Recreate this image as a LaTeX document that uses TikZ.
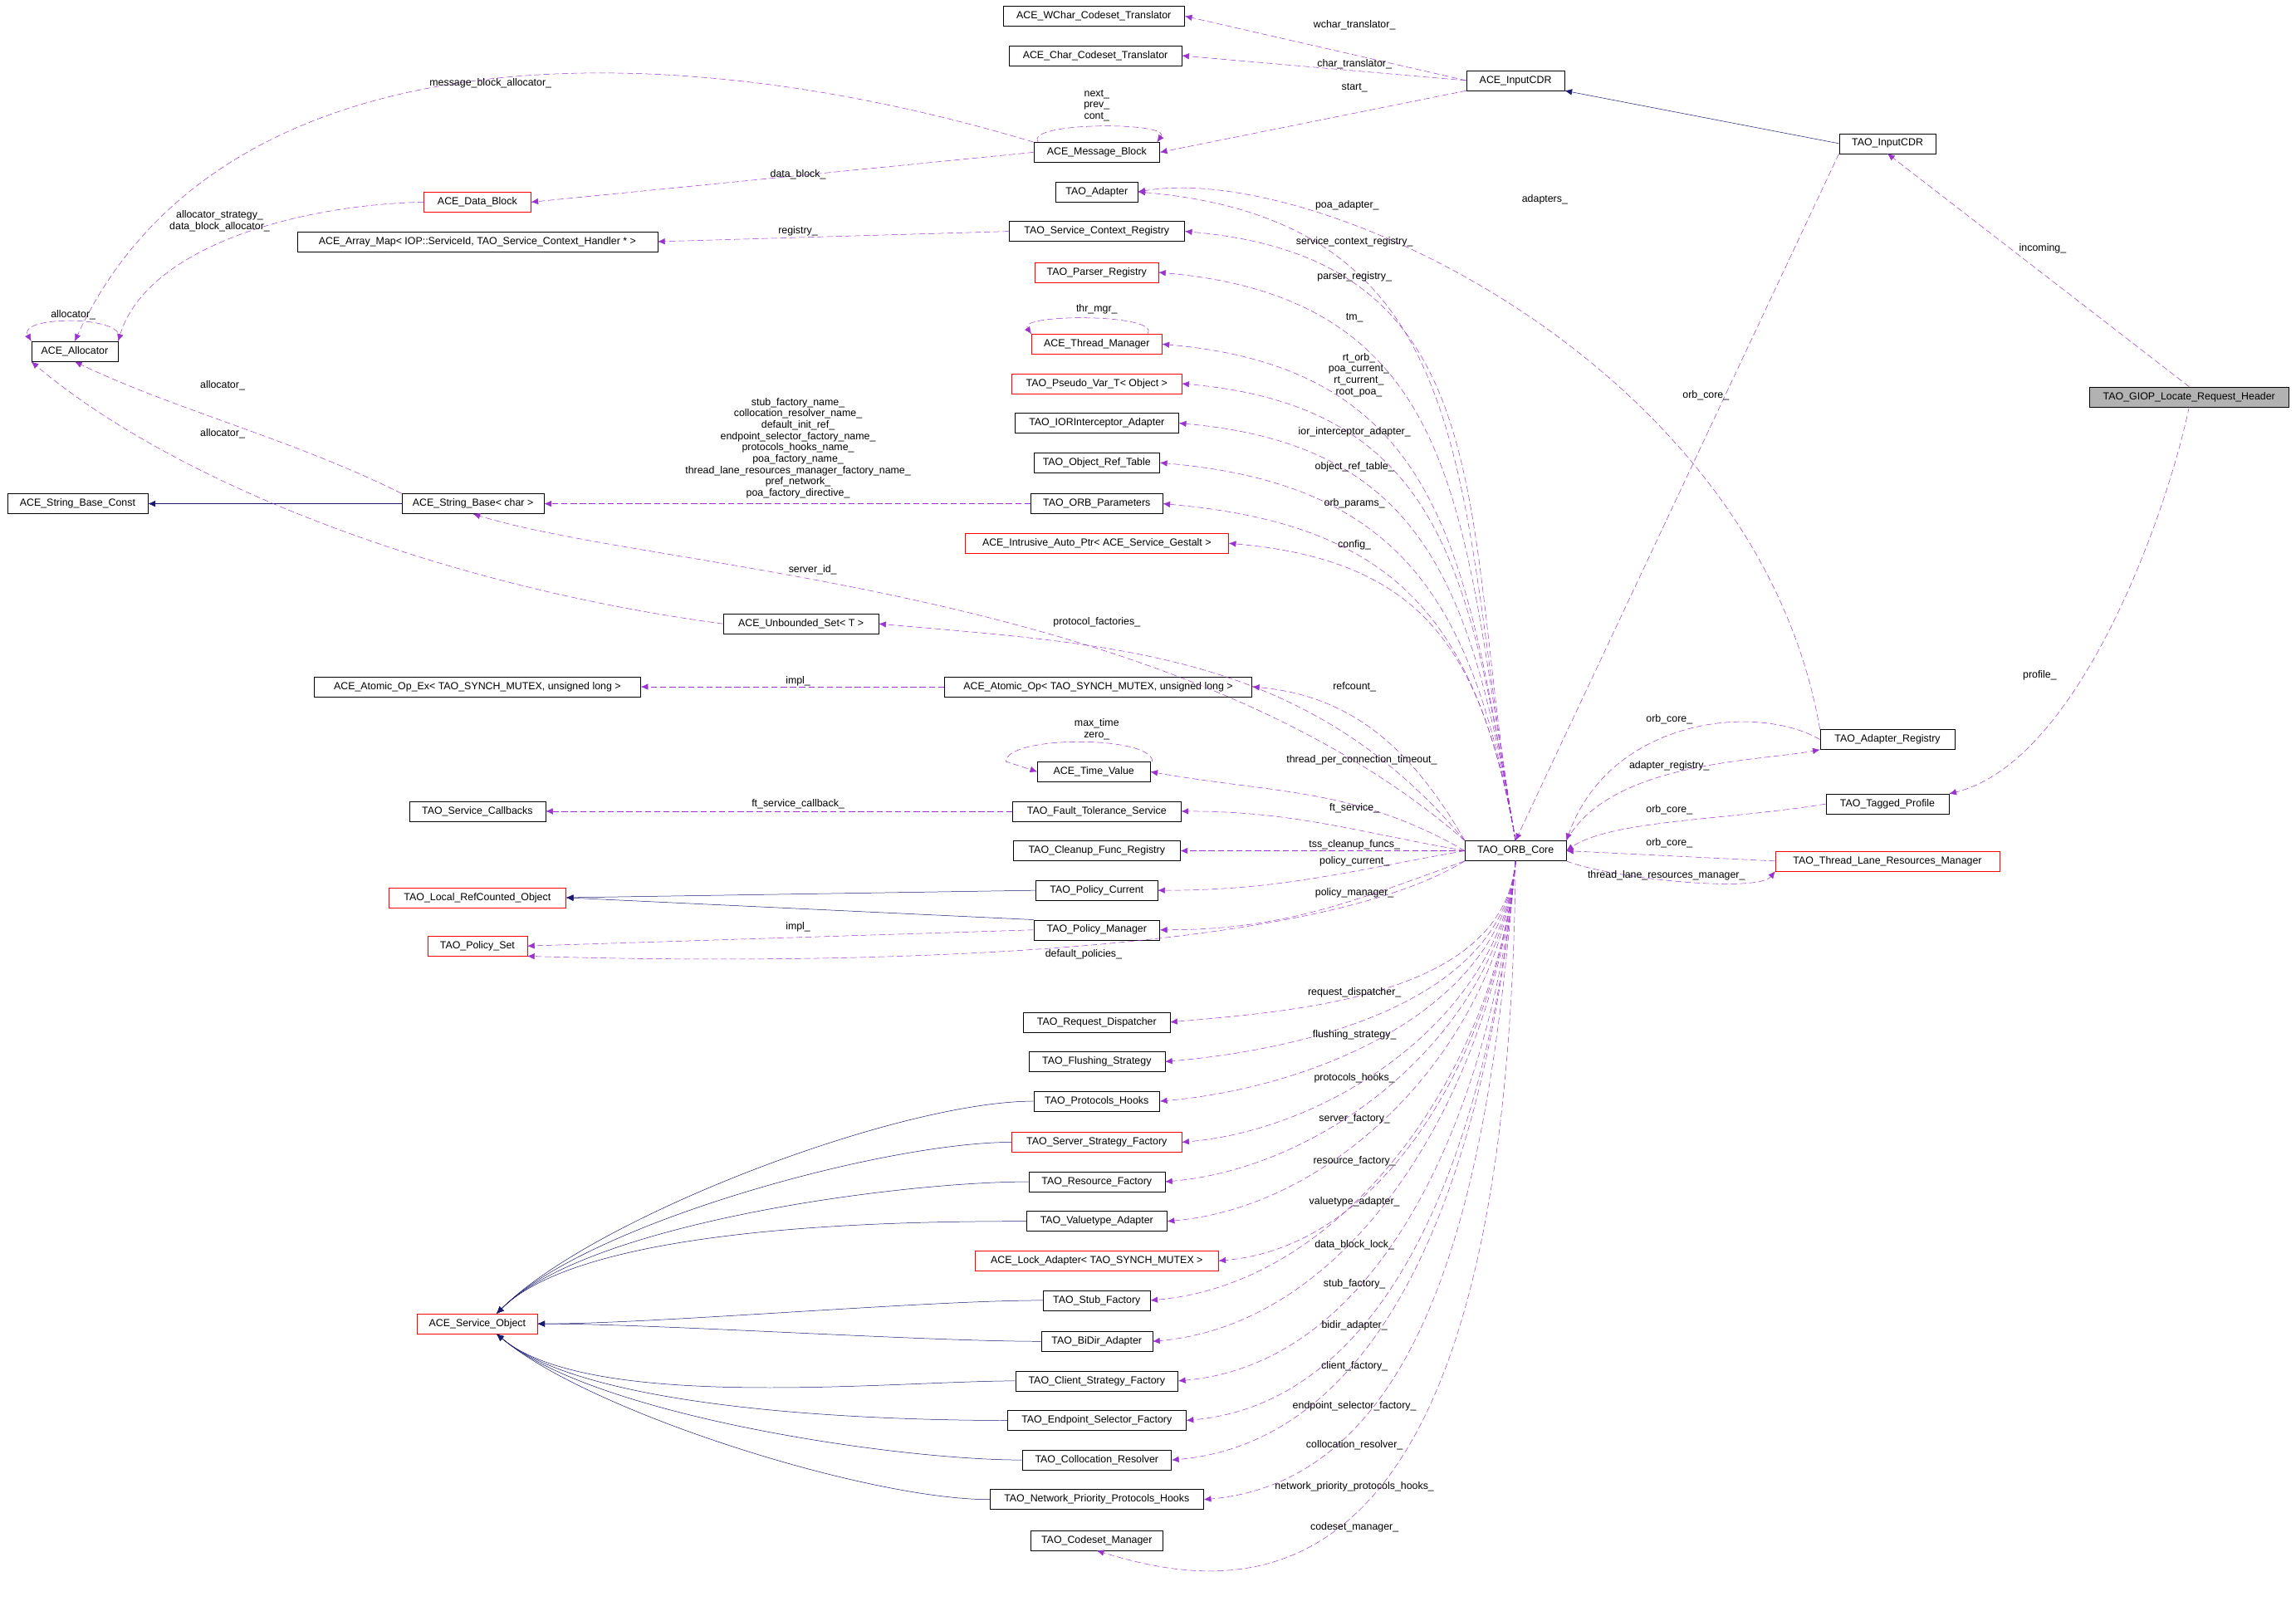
\documentclass[tikz,border=0pt]{standalone}
\usepackage{fontspec}
\setmainfont{Liberation Sans}
\usetikzlibrary{calc,arrows.meta}
\definecolor{dep}{HTML}{9A32CD}
\definecolor{inh}{HTML}{191970}
\tikzset{
 box/.style={draw=black,fill=white,font=\fontsize{10}{11}\selectfont,minimum height=0.68cm,inner sep=1pt},
 redbox/.style={box,draw=red},
 gbox/.style={box,fill=black!30},
 dep/.style={draw=dep,dashed,dash pattern=on 6pt off 3pt,-{Latex[length=7pt,width=6pt]}},
 inh/.style={draw=inh,-{Latex[length=7pt,width=6pt]}},
 lbl/.style={font=\fontsize{10}{11}\selectfont,inner sep=0pt,align=center}
}
\newcommand{\nd}[6][box]{\node[#1,minimum width=#5*0.05cm] (#2) at (#3,#4) {#6};}
\newcommand{\lb}[4]{\node[lbl] (#1) at (#2,#3) {#4};}
\begin{document}
\begin{tikzpicture}[x=0.05cm,y=-0.05cm]
\useasboundingbox (0,0) rectangle (1568,1103);
\nd{wchar}{747}{11}{124}{ACE\_WChar\_Codeset\_Translator}
\nd{char}{748}{38}{118}{ACE\_Char\_Codeset\_Translator}
\nd{acecdr}{1035}{55}{67}{ACE\_InputCDR}
\nd{taocdr}{1289}{98}{66}{TAO\_InputCDR}
\nd{mb}{749}{104}{86}{ACE\_Message\_Block}
\nd{adapter}{749}{131}{56}{TAO\_Adapter}
\nd[redbox]{db}{326}{138}{73}{ACE\_Data\_Block}
\nd{amap}{326}{165}{246}{ACE\_Array\_Map< IOP::ServiceId, TAO\_Service\_Context\_Handler * >}
\nd{scr}{749}{158}{120}{TAO\_Service\_Context\_Registry}
\nd[redbox]{preg}{749}{186}{84}{TAO\_Parser\_Registry}
\nd{alloc}{51}{240}{59}{ACE\_Allocator}
\nd[redbox]{tm}{749}{235}{89}{ACE\_Thread\_Manager}
\nd[redbox]{pv}{749}{262}{116}{TAO\_Pseudo\_Var\_T< Object >}
\nd[gbox]{giop}{1495}{271}{136}{TAO\_GIOP\_Locate\_Request\_Header}
\nd{ior}{749}{289}{112}{TAO\_IORInterceptor\_Adapter}
\nd{ort}{749}{316}{86}{TAO\_Object\_Ref\_Table}
\nd{sbc}{53}{344}{96}{ACE\_String\_Base\_Const}
\nd{sb}{323}{344}{97}{ACE\_String\_Base< char >}
\nd{op}{749}{344}{90}{TAO\_ORB\_Parameters}
\nd[redbox]{iap}{749}{371}{180}{ACE\_Intrusive\_Auto\_Ptr< ACE\_Service\_Gestalt >}
\nd{us}{547}{426}{106}{ACE\_Unbounded\_Set< T >}
\nd{aox}{326}{469}{223}{ACE\_Atomic\_Op\_Ex< TAO\_SYNCH\_MUTEX, unsigned long >}
\nd{ao}{750}{469}{210}{ACE\_Atomic\_Op< TAO\_SYNCH\_MUTEX, unsigned long >}
\nd{areg}{1289}{505}{92}{TAO\_Adapter\_Registry}
\nd{tv}{747}{527}{77}{ACE\_Time\_Value}
\nd{tp}{1289}{549}{84}{TAO\_Tagged\_Profile}
\nd{scb}{326}{554}{93}{TAO\_Service\_Callbacks}
\nd{fts}{749}{554}{115}{TAO\_Fault\_Tolerance\_Service}
\nd{core}{1035}{581}{69}{TAO\_ORB\_Core}
\nd{cfr}{749}{581}{114}{TAO\_Cleanup\_Func\_Registry}
\nd[redbox]{tlrm}{1289}{588}{153}{TAO\_Thread\_Lane\_Resources\_Manager}
\nd[redbox]{lrc}{326}{613}{121}{TAO\_Local\_RefCounted\_Object}
\nd{pc}{749}{608}{83}{TAO\_Policy\_Current}
\nd{pm}{749}{635}{86}{TAO\_Policy\_Manager}
\nd[redbox]{ps}{326}{646}{68}{TAO\_Policy\_Set}
\nd{rd}{749}{698}{100}{TAO\_Request\_Dispatcher}
\nd{fs}{749}{725}{93}{TAO\_Flushing\_Strategy}
\nd{ph}{749}{752}{86}{TAO\_Protocols\_Hooks}
\nd[redbox]{ssf}{749}{780}{116}{TAO\_Server\_Strategy\_Factory}
\nd{rf}{749}{807}{93}{TAO\_Resource\_Factory}
\nd{va}{749}{834}{96}{TAO\_Valuetype\_Adapter}
\nd[redbox]{la}{749}{861}{166}{ACE\_Lock\_Adapter< TAO\_SYNCH\_MUTEX >}
\nd{sf}{749}{888}{73}{TAO\_Stub\_Factory}
\nd[redbox]{so}{326}{904}{82}{ACE\_Service\_Object}
\nd{bda}{749}{916}{76}{TAO\_BiDir\_Adapter}
\nd{csf}{749}{943}{111}{TAO\_Client\_Strategy\_Factory}
\nd{esf}{749}{970}{122}{TAO\_Endpoint\_Selector\_Factory}
\nd{cr}{749}{997}{102}{TAO\_Collocation\_Resolver}
\nd{npph}{749}{1024}{146}{TAO\_Network\_Priority\_Protocols\_Hooks}
\nd{cm}{749}{1052}{90}{TAO\_Codeset\_Manager}

% inheritance
\draw[inh] (taocdr.west) -- (acecdr.south east);
\draw[inh] (sb.west) -- (sbc.east);
\draw[inh] (pc.west) -- (lrc.east);
\draw[inh] (pm.north west) -- (lrc.east);
\foreach \n in {ph,ssf,rf,va}
  \draw[inh] (\n.west) to[out=180,in=45,looseness=0.6] ($(so.north east)+(-28,0)$);
\foreach \n in {sf,bda}
  \draw[inh] (\n.west) to[out=180,in=0,looseness=0.6] (so.east);
\foreach \n in {csf,esf,cr,npph}
  \draw[inh] (\n.west) to[out=180,in=-40,looseness=0.6] ($(so.south east)+(-28,0)$);

% dependencies
\draw[dep] (acecdr.west) -- (wchar.east);
\draw[dep] (acecdr.west) -- (char.east);
\draw[dep] (acecdr.south west) -- (mb.east);
\draw[dep] ($(mb.north)+(-40,0)$) .. controls +(-10,-14) and +(10,-14) .. ($(mb.north east)+(-2,0)$);
\draw[dep] (mb.north west) .. controls (450,20) and (150,20) .. (alloc.north);
\draw[dep] (mb.west) -- (db.east);
\draw[dep] (db.west) .. controls (200,140) and (100,170) .. (alloc.north east);
\draw[dep] (alloc.north east) .. controls +(10,-18) and +(-10,-18) .. (alloc.north west);
\draw[dep] (sb.north west) .. controls (200,300) and (120,280) .. (alloc.south);
\draw[dep] (us.west) .. controls (300,400) and (120,330) .. (alloc.south west);
\draw[dep] (scr.west) -- (amap.east);
\draw[dep] ($(tm.north east)+(-10,0)$) .. controls +(10,-14) and +(-10,-14) .. ($(tm.north west)+(0,0)$);
\draw[dep] (op.west) -- (sb.east);
\draw[dep] (core.north west) .. controls (800,400) and (450,390) .. (sb.south);
\draw[dep] (ao.west) -- (aox.east);
\draw[dep] ($(tv.north)+(40,0)$) .. controls +(0,-18) and +(0,-18) .. ($(tv.north)+(-60,0)$) -- (tv.west);
\draw[dep] (fts.west) -- (scb.east);
\draw[dep] (pm.west) -- (ps.east);
\draw[dep] (core.south west) .. controls (900,650) and (600,660) .. (ps.south east);

% ORB core to column above
\foreach \n in {adapter,scr,preg,tm,pv,ior,ort,op,iap}
  \draw[dep] (core.north) to[out=100,in=-5,looseness=1.2] (\n.east);
\draw[dep] (core.north west) to[out=130,in=-5] (us.east);
\draw[dep] (core.north west) to[out=120,in=-5] (ao.east);
\draw[dep] (core.west) to[out=150,in=-10] (tv.east);
\draw[dep] (core.west) to[out=170,in=0] (fts.east);
\draw[dep] (core.west) -- (cfr.east);
\draw[dep] (core.west) to[out=190,in=0] (pc.east);
\draw[dep] (core.south west) to[out=200,in=0] (pm.east);
\foreach \n in {rd,fs,ph,ssf,rf,va,la,sf,bda,csf,esf,cr,npph}
  \draw[dep] (core.south) to[out=-95,in=5,looseness=0.9] (\n.east);
\draw[dep] (core.south) .. controls (1030,1110) and (850,1090) .. (cm.south);

\draw[dep] (areg.north west) .. controls (1200,250) and (900,110) .. (adapter.east);
\draw[dep] (taocdr.south west) -- (core.north);
\draw[dep] (areg.west) .. controls (1200,480) and (1100,490) .. (core.north east);
\draw[dep] (core.north east) .. controls (1100,520) and (1200,520) .. (areg.south west);
\draw[dep] (tp.west) .. controls (1180,560) and (1100,560) .. (core.east);
\draw[dep] (tlrm.west) -- (core.east);
\draw[dep] (core.south east) .. controls (1100,600) and (1200,610) .. (tlrm.south west);
\draw[dep] (giop.north) -- (taocdr.south);
\draw[dep] (giop.south) .. controls (1480,350) and (1420,520) .. (tp.north east);

% labels
\lb{l1}{925}{17}{wchar\_translator\_}
\lb{l2}{925}{44}{char\_translator\_}
\lb{l3}{925}{60}{start\_}
\lb{l4}{749}{72}{next\_\\prev\_\\cont\_}
\lb{l5}{335}{57}{message\_block\_allocator\_}
\lb{l6}{545}{119}{data\_block\_}
\lb{l7}{150}{151}{allocator\_strategy\_\\data\_block\_allocator\_}
\lb{l8}{50}{215}{allocator\_}
\lb{l9}{545}{158}{registry\_}
\lb{l10}{920}{140}{poa\_adapter\_}
\lb{l11}{925}{165}{service\_context\_registry\_}
\lb{l12}{925}{189}{parser\_registry\_}
\lb{l13}{749}{211}{thr\_mgr\_}
\lb{l14}{925}{217}{tm\_}
\lb{l15}{928}{256}{rt\_orb\_\\poa\_current\_\\rt\_current\_\\root\_poa\_}
\lb{l16}{925}{295}{ior\_interceptor\_adapter\_}
\lb{l17}{925}{319}{object\_ref\_table\_}
\lb{l18}{925}{344}{orb\_params\_}
\lb{l19}{925}{372}{config\_}
\lb{l20}{555}{389}{server\_id\_}
\lb{l21}{749}{425}{protocol\_factories\_}
\lb{l22}{152}{263}{allocator\_}
\lb{l23}{152}{296}{allocator\_}
\lb{l24}{545}{306}{stub\_factory\_name\_\\collocation\_resolver\_name\_\\default\_init\_ref\_\\endpoint\_selector\_factory\_name\_\\protocols\_hooks\_name\_\\poa\_factory\_name\_\\thread\_lane\_resources\_manager\_factory\_name\_\\pref\_network\_\\poa\_factory\_directive\_}
\lb{l25}{545}{465}{impl\_}
\lb{l26}{925}{469}{refcount\_}
\lb{l27}{749}{498}{max\_time\\zero\_}
\lb{l28}{930}{519}{thread\_per\_connection\_timeout\_}
\lb{l29}{545}{549}{ft\_service\_callback\_}
\lb{l30}{925}{552}{ft\_service\_}
\lb{l31}{925}{577}{tss\_cleanup\_funcs\_}
\lb{l32}{925}{588}{policy\_current\_}
\lb{l33}{925}{610}{policy\_manager\_}
\lb{l34}{545}{633}{impl\_}
\lb{l35}{740}{652}{default\_policies\_}
\lb{l36}{925}{678}{request\_dispatcher\_}
\lb{l37}{925}{707}{flushing\_strategy\_}
\lb{l38}{925}{736}{protocols\_hooks\_}
\lb{l39}{925}{764}{server\_factory\_}
\lb{l40}{925}{793}{resource\_factory\_}
\lb{l41}{925}{821}{valuetype\_adapter\_}
\lb{l42}{925}{850}{data\_block\_lock\_}
\lb{l43}{925}{877}{stub\_factory\_}
\lb{l44}{925}{905}{bidir\_adapter\_}
\lb{l45}{925}{933}{client\_factory\_}
\lb{l46}{925}{960}{endpoint\_selector\_factory\_}
\lb{l47}{925}{987}{collocation\_resolver\_}
\lb{l48}{925}{1015}{network\_priority\_protocols\_hooks\_}
\lb{l49}{925}{1043}{codeset\_manager\_}
\lb{l50}{1055}{136}{adapters\_}
\lb{l51}{1165}{270}{orb\_core\_}
\lb{l52}{1395}{170}{incoming\_}
\lb{l53}{1393}{461}{profile\_}
\lb{l54}{1140}{491}{orb\_core\_}
\lb{l55}{1140}{523}{adapter\_registry\_}
\lb{l56}{1140}{553}{orb\_core\_}
\lb{l57}{1140}{576}{orb\_core\_}
\lb{l58}{1138}{598}{thread\_lane\_resources\_manager\_}
\end{tikzpicture}
\end{document}
